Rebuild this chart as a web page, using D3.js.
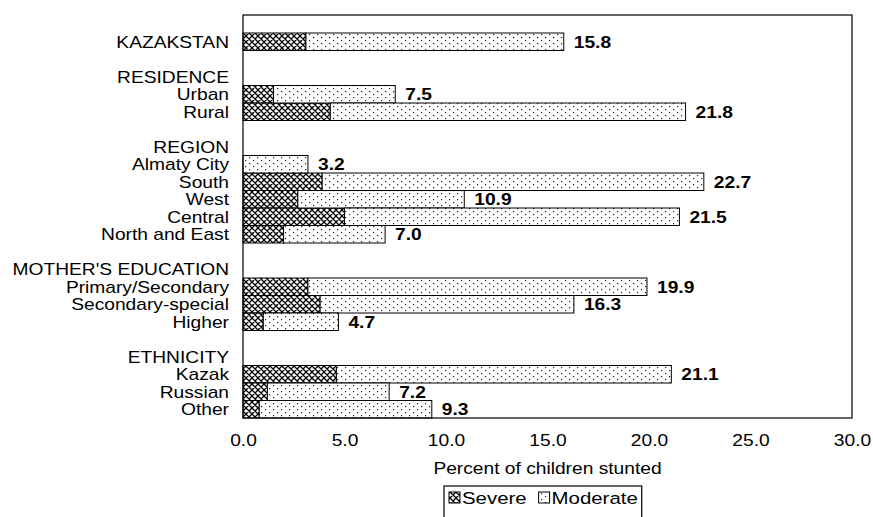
<!DOCTYPE html>
<html>
<head>
<meta charset="utf-8">
<script src="https://cdn.jsdelivr.net/npm/d3@7"></script>
<style>
  html, body { margin: 0; padding: 0; background: #fff; }
  svg { display: block; }
  text { font-family: "Liberation Sans", Arial, Helvetica, sans-serif; fill: #000; }
</style>
</head>
<body>
<svg id="chart" width="873" height="517"></svg>
<script>
// ---- data ----
const categories = ["KAZAKSTAN", "", "RESIDENCE", "Urban", "Rural", "", "REGION", "Almaty City", "South", "West",
  "Central", "North and East", "", "MOTHER'S EDUCATION", "Primary/Secondary", "Secondary-special", "Higher", "",
  "ETHNICITY", "Kazak", "Russian", "Other"];
const severe   = [3.1, null, null, 1.5, 4.3, null, null, 0.0, 3.9, 2.7, 5.0, 2.0, null, null, 3.2, 3.8, 1.0, null, null, 4.6, 1.2, 0.8];
const moderate = [12.7, null, null, 6.0, 17.5, null, null, 3.2, 18.8, 8.2, 16.5, 5.0, null, null, 16.7, 12.5, 3.7, null, null, 16.5, 6.0, 8.5];
const xTicks = [0, 5, 10, 15, 20, 25, 30];
const seriesNames = ["Severe", "Moderate"];
const axisTitle = "Percent of children stunted";

// ---- layout ----
const SX = 1.2; // horizontal stretch of the scanned type
const svg = d3.select("#chart");
const plot = { left: 243, right: 852, top: 15, bottom: 418 };

const defs = svg.append("defs");
const hatch = defs.append("pattern").attr("id", "pSevere").attr("patternUnits", "userSpaceOnUse")
  .attr("width", 6).attr("height", 6);
hatch.append("rect").attr("width", 6).attr("height", 6).attr("fill", "#fff");
hatch.append("path").attr("d", "M-1,-1 L7,7 M-1,5 L1,7 M5,-1 L7,1 M7,-1 L-1,7 M1,-1 L-1,1 M7,5 L5,7")
  .attr("stroke", "#000").attr("stroke-width", 1.3);
const dots = defs.append("pattern").attr("id", "pModerate").attr("patternUnits", "userSpaceOnUse")
  .attr("width", 8).attr("height", 6);
dots.append("rect").attr("width", 8).attr("height", 6).attr("fill", "#fff");
dots.append("rect").attr("x", 1).attr("y", 1).attr("width", 1.2).attr("height", 1.2).attr("fill", "#222");
dots.append("rect").attr("x", 5).attr("y", 4).attr("width", 1.2).attr("height", 1.2).attr("fill", "#222");
const fills = { Severe: "url(#pSevere)", Moderate: "url(#pModerate)" };

const x = d3.scaleLinear().domain([0, 30]).range([plot.left, plot.right]);
const y = d3.scaleBand().domain(d3.range(categories.length)).range([33, plot.bottom]).padding(0);

// rows with bars
const rows = categories.map((c, i) => ({ i, c, Severe: severe[i], Moderate: moderate[i] }))
  .filter(d => d.Severe !== null);
const stack = d3.stack().keys(seriesNames)(rows);

svg.append("g").selectAll("g").data(stack).join("g")
  .attr("fill", d => fills[d.key])
  .selectAll("rect").data(d => d.filter(s => s[1] - s[0] > 0)).join("rect")
  .attr("x", s => x(s[0]))
  .attr("y", s => y(s.data.i))
  .attr("width", s => x(s[1]) - x(s[0]))
  .attr("height", y.bandwidth())
  .attr("stroke", "#000").attr("stroke-width", 1);

// value labels
svg.append("g").selectAll("text").data(rows).join("text")
  .attr("transform", d => `translate(${x(d.Severe + d.Moderate) + 10},${y(d.i) + y.bandwidth() / 2}) scale(${SX},1)`)
  .attr("dy", "0.36em")
  .attr("font-size", 16).attr("font-weight", "bold")
  .text(d => (d.Severe + d.Moderate).toFixed(1));

// category labels
svg.append("g").selectAll("text").data(categories.map((c, i) => ({ c, i })).filter(d => d.c !== "")).join("text")
  .attr("transform", d => `translate(229,${y(d.i) + y.bandwidth() / 2}) scale(${SX},1)`)
  .attr("dy", "0.36em")
  .attr("text-anchor", "end")
  .attr("font-size", 16)
  .text(d => d.c);

// frame
svg.append("rect")
  .attr("x", plot.left).attr("y", plot.top)
  .attr("width", plot.right - plot.left).attr("height", plot.bottom - plot.top)
  .attr("fill", "none").attr("stroke", "#000").attr("stroke-width", 1.2);

// x axis
const xAxis = svg.append("g").attr("transform", `translate(0,${plot.bottom})`)
  .call(d3.axisBottom(x).tickValues(xTicks).tickFormat(d3.format(".1f")).tickSize(0).tickPadding(17));
xAxis.select(".domain").remove();
xAxis.selectAll("text")
  .attr("font-size", 16)
  .attr("font-family", "Liberation Sans, Arial, sans-serif")
  .attr("fill", "#000")
  .attr("transform", `scale(${SX},1)`);

// axis title
svg.append("text")
  .attr("transform", `translate(${(plot.left + plot.right) / 2},474) scale(${SX},1)`)
  .attr("text-anchor", "middle").attr("font-size", 16)
  .text(axisTitle);

// legend
const lg = svg.append("g").attr("transform", "translate(444,486)");
const legBox = lg.append("rect").attr("x", 0).attr("y", 0).attr("height", 34)
  .attr("fill", "#fff").attr("stroke", "#000").attr("stroke-width", 1.2);
let cx = 5;
seriesNames.forEach(k => {
  lg.append("rect").attr("x", cx).attr("y", 6).attr("width", 11).attr("height", 11)
    .attr("fill", fills[k]).attr("stroke", "#000").attr("stroke-width", 1);
  const t = lg.append("text")
    .attr("transform", `translate(${cx + 13},12) scale(${SX},1)`)
    .attr("dy", "0.36em").attr("font-size", 17).text(k);
  cx += 13 + t.node().getBBox().width * SX + 12;
});
legBox.attr("width", cx - 8);
</script>
</body>
</html>
